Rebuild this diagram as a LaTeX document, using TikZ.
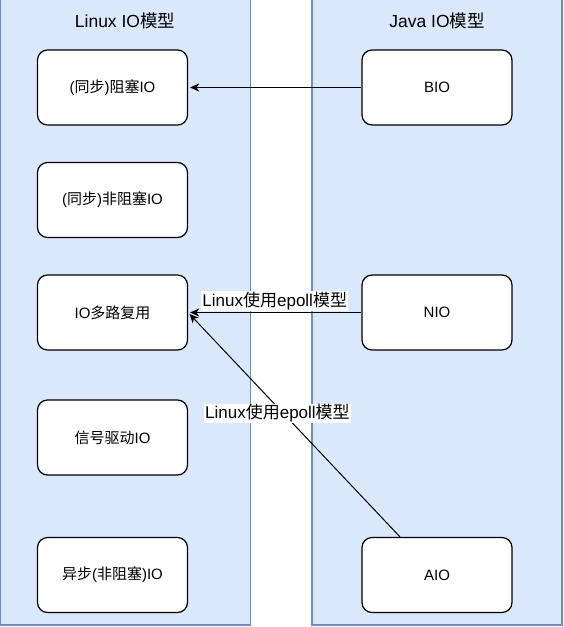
\documentclass[tikz,border=0pt]{standalone}
\usepackage{fontspec}
\setmainfont{Liberation Sans}
\newfontfamily\cjk{Noto Sans CJK SC}
\usetikzlibrary{arrows.meta}
\definecolor{groupfill}{HTML}{DAE8FC}
\definecolor{groupline}{HTML}{6C8EBF}
\newcommand{\zh}[1]{{\cjk #1}}
\tikzstyle{group} = [draw=groupline, fill=groupfill, line width=1.3pt, minimum width=250pt, minimum height=627pt, inner sep=0pt]
\tikzstyle{head} = [font=\fontsize{17.5}{20}\selectfont]
\tikzstyle{box} = [draw, fill=white, rounded corners=10pt, line width=1.2pt, minimum width=150pt, minimum height=75pt, font=\fontsize{15}{18}\selectfont]
\tikzstyle{tag} = [fill=white, inner sep=1pt, font=\fontsize{17}{20}\selectfont]
\tikzstyle{link} = [-{Stealth[length=9pt,width=8pt,inset=2.5pt]}, line width=1pt, shorten >=2pt]

\begin{document}
\begin{tikzpicture}[x=1pt, y=-1pt]
\useasboundingbox (0,0) rectangle (564,627);
\node[group] (linux) at (125.6,311.5) {};
\node[group] (java) at (437,311.5) {};
\node[head] (linuxhead) at (125,21) {Linux IO\zh{模型}};
\node[head] (javahead) at (437,21) {Java IO\zh{模型}};

\node[box] (block) at (112.5,87.5) {(\zh{同步})\zh{阻塞}IO};
\node[box] (nonblock) at (112.5,200) {(\zh{同步})\zh{非阻塞}IO};
\node[box] (mux) at (112.5,312.5) {IO\zh{多路复用}};
\node[box] (signal) at (112.5,437.5) {\zh{信号驱动}IO};
\node[box] (async) at (112.5,575) {\zh{异步}(\zh{非阻塞})IO};

\node[box] (bio) at (437,87.5) {BIO};
\node[box] (nio) at (437,312.5) {NIO};
\node[box] (aio) at (437,575) {AIO};

\draw[link] (bio) -- (block);
\draw[link] (nio) -- node[tag, above=1pt] {Linux\zh{使用}epoll\zh{模型}} (mux);
\draw[link] ([xshift=-37pt]aio.north) -- node[tag, pos=0.55, xshift=-6pt] {Linux\zh{使用}epoll\zh{模型}} (mux.east);
\end{tikzpicture}
\end{document}
